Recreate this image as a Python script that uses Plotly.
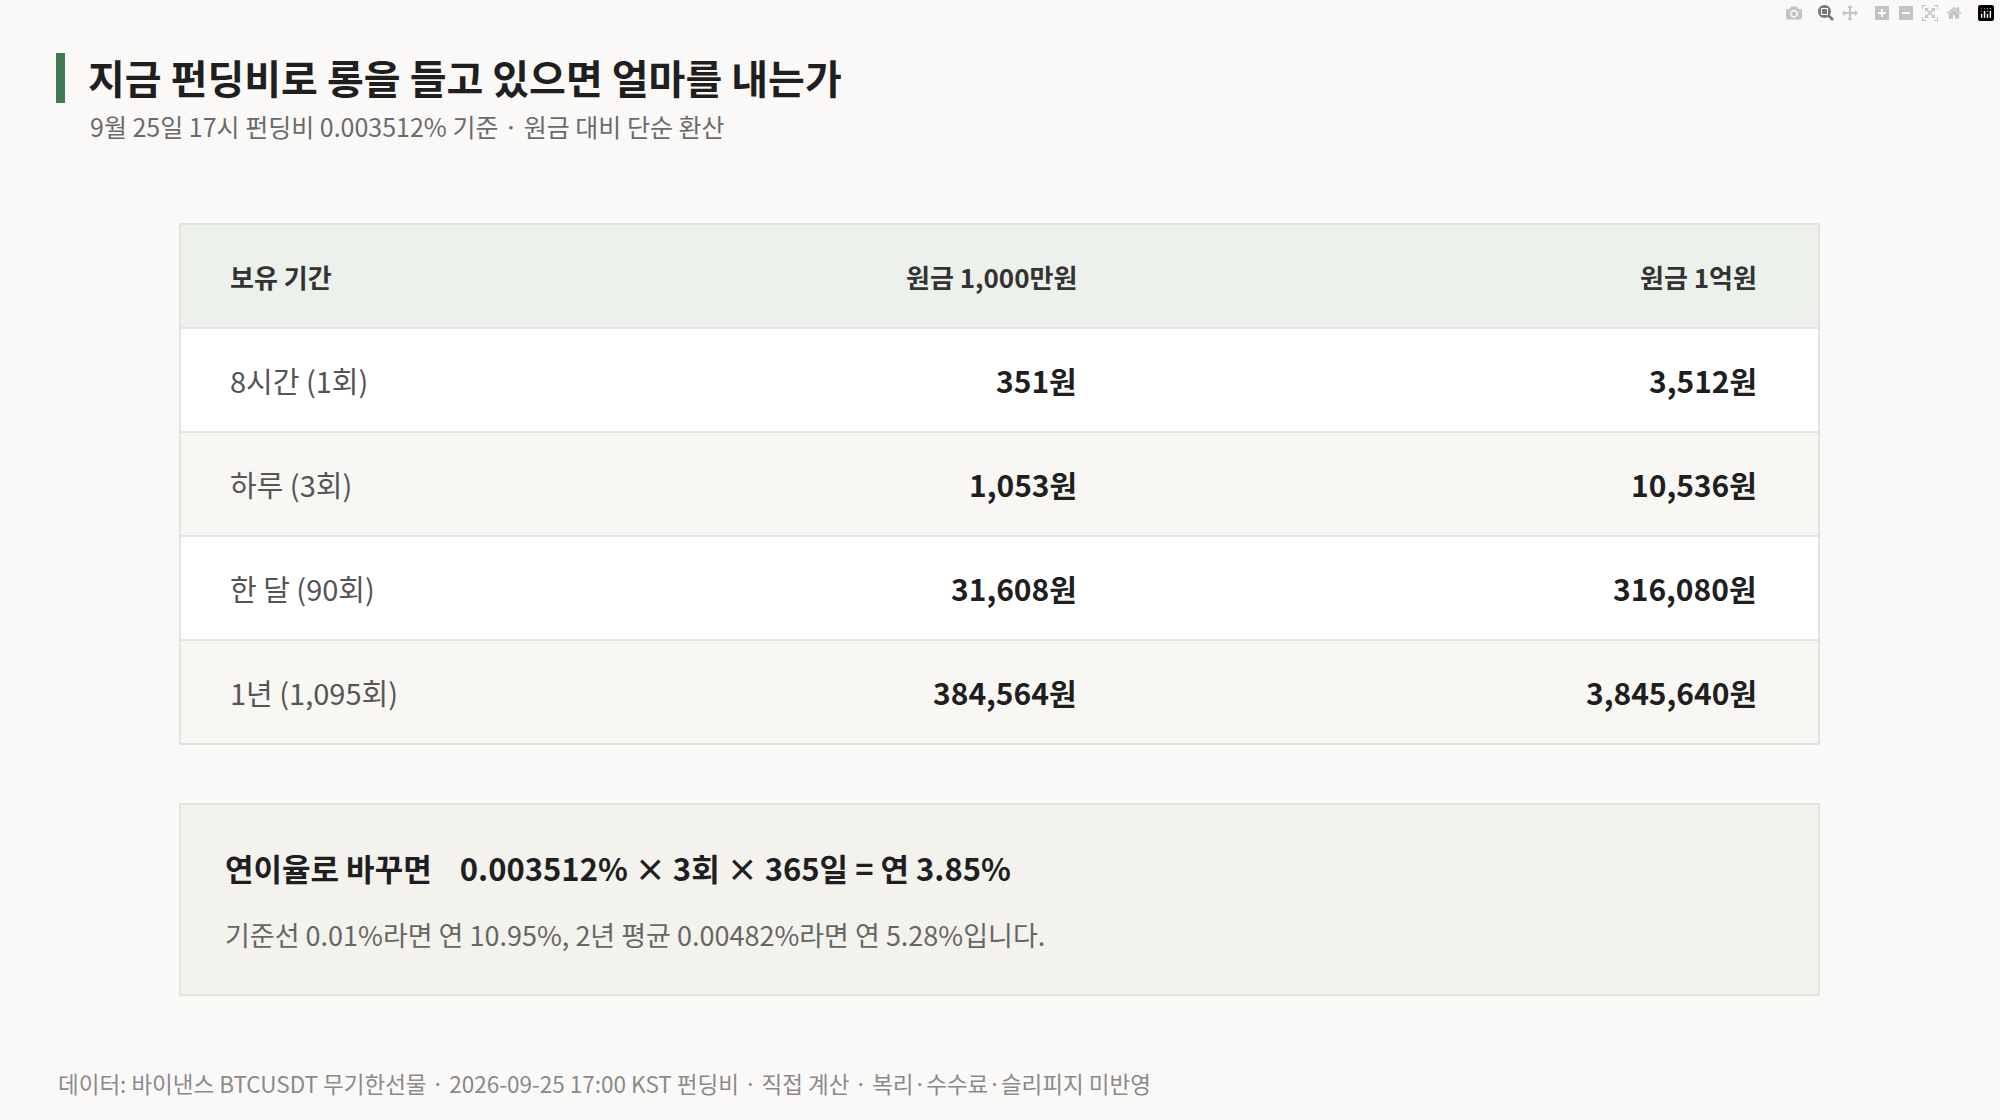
import plotly.graph_objects as go

title = "지금 펀딩비로 롱을 들고 있으면 얼마를 내는가"
subtitle = "9월 25일 17시 펀딩비 0.003512% 기준 · 원금 대비 단순 환산"
headers = ["보유 기간", "원금 1,000만원", "원금 1억원"]
periods = ["8시간 (1회)", "하루 (3회)", "한 달 (90회)", "1년 (1,095회)"]
cost_10m = ["351원", "1,053원", "31,608원", "384,564원"]
cost_100m = ["3,512원", "10,536원", "316,080원", "3,845,640원"]
note_title = "연이율로 바꾸면"
note_formula = "0.003512% × 3회 × 365일 = 연 3.85%"
note_sub = "기준선 0.01%라면 연 10.95%, 2년 평균 0.00482%라면 연 5.28%입니다."
footer = "데이터: 바이낸스 BTCUSDT 무기한선물 · 2026-09-25 17:00 KST 펀딩비 · 직접 계산 · 복리·수수료·슬리피지 미반영"

W, H = 2000, 1120
FONT = "Noto Sans CJK KR"
def px(x): return x / W
def py(y): return 1 - y / H

fig = go.Figure()
shapes, ann = [], []

def rect(x0, y0, x1, y1, fill, line=None, lw=0):
    shapes.append(dict(type="rect", xref="paper", yref="paper", x0=px(x0), x1=px(x1),
                       y0=py(y1), y1=py(y0), fillcolor=fill, layer="below",
                       line=dict(color=line or fill, width=lw)))

def text(x, y, s, size, color, anchor="left", bold=False):
    ann.append(dict(xref="paper", yref="paper", x=px(x), y=py(y), text=f"<b>{s}</b>" if bold else s,
                    showarrow=False, xanchor=anchor, yanchor="middle",
                    font=dict(family=FONT, size=size, color=color)))

# title
rect(56, 53, 65, 103, "#3f7a55")
text(86, 77, title, 40, "#1f1f1f", bold=True)
text(88, 126, subtitle, 25, "#6b6b6b")

# table
TX0, TX1, TY0 = 180, 1819, 224
HH, RH = 104, 104
C1, C2, C3 = 228, 1079, 1759
rect(TX0, TY0, TX1, TY0 + HH, "#edf1ec")
text(C1, TY0 + HH / 2, headers[0], 26, "#333", bold=True)
text(C2, TY0 + HH / 2, headers[1], 26, "#333", "right", bold=True)
text(C3, TY0 + HH / 2, headers[2], 26, "#333", "right", bold=True)
for i, (p, a, b) in enumerate(zip(periods, cost_10m, cost_100m)):
    y0 = TY0 + HH + i * RH
    rect(TX0, y0, TX1, y0 + RH, "#ffffff" if i % 2 == 0 else "#f8f7f4")
    shapes.append(dict(type="line", xref="paper", yref="paper", x0=px(TX0), x1=px(TX1),
                       y0=py(y0), y1=py(y0), line=dict(color="#dedede", width=1.5)))
    yc = y0 + RH / 2
    text(C1, yc, p, 29, "#555")
    text(C2, yc, a, 30, "#1f1f1f", "right", bold=True)
    text(C3, yc, b, 30, "#1f1f1f", "right", bold=True)
TY1 = TY0 + HH + len(periods) * RH
shapes.append(dict(type="rect", xref="paper", yref="paper", x0=px(TX0), x1=px(TX1),
                   y0=py(TY1), y1=py(TY0), line=dict(color="#dcdcdc", width=1.5)))

# note box
rect(180, 804, 1819, 995, "#f4f2ed", "#e0ddd6", 1.5)
text(223, 867, note_title + "    " + note_formula, 31, "#1f1f1f", bold=True)
text(223, 934, note_sub, 27, "#666")

text(56, 1083, footer, 22.5, "#8a8a8a")

fig.update_layout(width=W, height=H, margin=dict(l=0, r=0, t=0, b=0),
                  paper_bgcolor="#faf9f7", plot_bgcolor="#faf9f7",
                  xaxis=dict(visible=False), yaxis=dict(visible=False),
                  shapes=shapes, annotations=ann, showlegend=False)
fig.write_html("out.html", post_script="document.body.style.margin='0';document.body.style.background='#faf9f7';")
